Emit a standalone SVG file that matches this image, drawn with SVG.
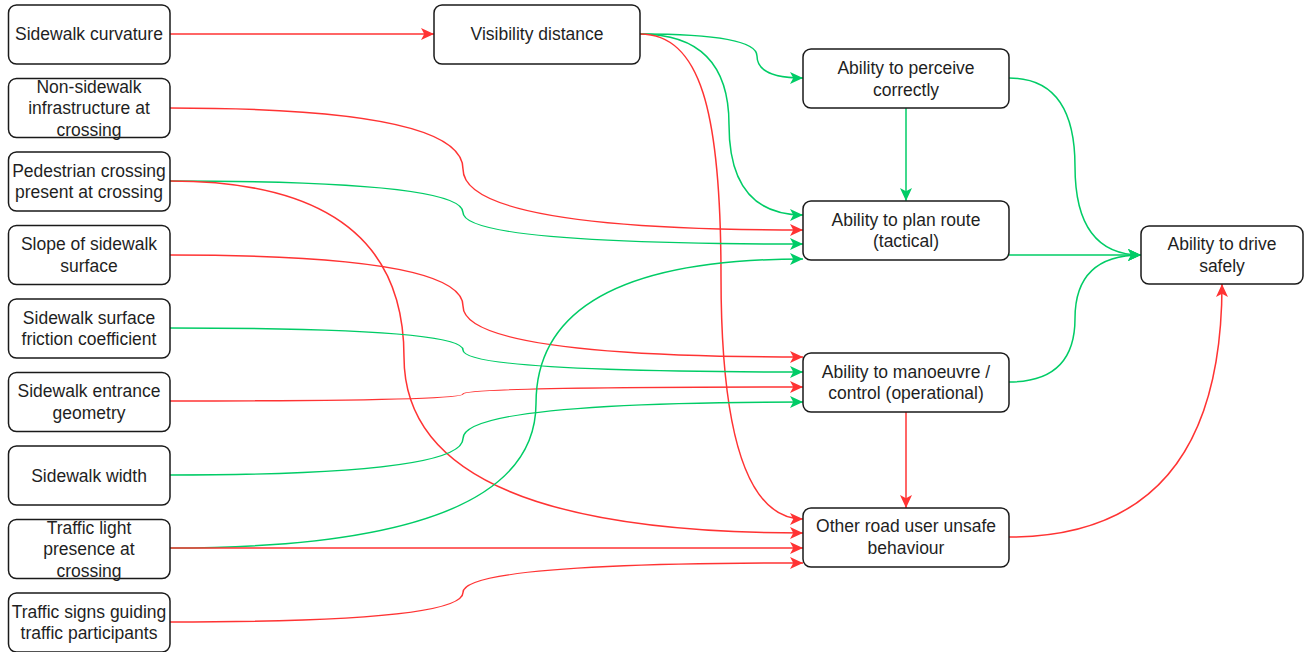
<svg xmlns="http://www.w3.org/2000/svg" width="1314" height="652" viewBox="0 0 1314 652">
  <style>
    .box { fill: #ffffff; stroke: #1a1a1a; stroke-width: 1.5; }
    .lbl { font-family: "Liberation Sans", Arial, Helvetica, sans-serif; font-size: 17.5px; fill: #1f1f1f; text-anchor: middle; }
    .red { fill: none; stroke: #ff3333; stroke-width: 1.5; }
    .green { fill: none; stroke: #00cc66; stroke-width: 1.5; }
  </style>
  <defs>
    <marker id="arrRed" viewBox="0 0 13 12" markerWidth="13" markerHeight="12" refX="13" refY="6" orient="auto" markerUnits="userSpaceOnUse">
      <path d="M0,0 L13,6 L0,12 L3.25,6 Z" fill="#ff3333"/>
    </marker>
    <marker id="arrGreen" viewBox="0 0 13 12" markerWidth="13" markerHeight="12" refX="13" refY="6" orient="auto" markerUnits="userSpaceOnUse">
      <path d="M0,0 L13,6 L0,12 L3.25,6 Z" fill="#00cc66"/>
    </marker>
  </defs>
  <rect width="1314" height="652" fill="#ffffff"/>

  <!-- connectors -->
  <g id="connectors">
    <path class="red" marker-end="url(#arrRed)" d="M170,34 L434,34"/>
    <path class="green" marker-end="url(#arrGreen)" d="M640,34 Q757,34 757,56 Q757,78 803,78"/>
    <path class="green" marker-end="url(#arrGreen)" d="M640,34 Q729,34 729,124.5 Q729,215 803,215"/>
    <path class="red" marker-end="url(#arrRed)" d="M640,34 C700,34 721,110 721,276.5 Q721,519 803,519"/>
    <path class="red" marker-end="url(#arrRed)" d="M170,108 Q463,108 463,169 Q463,230 803,230"/>
    <path class="green" marker-end="url(#arrGreen)" d="M170,181 Q463,181 463,212.5 Q463,244 803,244"/>
    <path class="red" marker-end="url(#arrRed)" d="M170,181 Q404,181 404,357 Q404,533 803,533"/>
    <path class="red" marker-end="url(#arrRed)" d="M170,255 Q463,255 463,306 Q463,357 803,357"/>
    <path class="green" marker-end="url(#arrGreen)" d="M170,328 Q463,328 463,350 Q463,372 803,372"/>
    <path class="red" marker-end="url(#arrRed)" d="M170,401 Q463,401 463,394 Q463,387 803,387"/>
    <path class="green" marker-end="url(#arrGreen)" d="M170,475 Q463,475 463,438.5 Q463,402 803,402"/>
    <path class="green" marker-end="url(#arrGreen)" d="M170,548 Q536,548 536,403.5 Q536,259 803,259"/>
    <path class="red" marker-end="url(#arrRed)" d="M170,548 L803,548"/>
    <path class="red" marker-end="url(#arrRed)" d="M170,622 Q463,622 463,592.5 Q463,563 803,563"/>
    <path class="green" marker-end="url(#arrGreen)" d="M906,108 L906,201"/>
    <path class="red" marker-end="url(#arrRed)" d="M906,412 L906,508"/>
    <path class="green" marker-end="url(#arrGreen)" d="M1009,78 Q1075,78 1075,166.5 Q1075,255 1141,255"/>
    <path class="green" marker-end="url(#arrGreen)" d="M1009,255 L1141,255"/>
    <path class="green" marker-end="url(#arrGreen)" d="M1009,382 Q1075,382 1075,318.5 Q1075,255 1141,255"/>
    <path class="red" marker-end="url(#arrRed)" d="M1009,537 Q1222,537 1222,284"/>
  </g>

  <!-- left column: contributing factors -->
  <g id="sidewalk-curvature">
    <rect class="box" x="8.5" y="5" width="161.5" height="59" rx="8"/>
    <text class="lbl" x="89" y="40">Sidewalk curvature</text>
  </g>
  <g id="non-sidewalk-infrastructure">
    <rect class="box" x="8.5" y="78.5" width="161.5" height="59" rx="8"/>
    <text class="lbl" x="89" y="92.5">Non-sidewalk</text>
    <text class="lbl" x="89" y="114">infrastructure at</text>
    <text class="lbl" x="89" y="135.5">crossing</text>
  </g>
  <g id="pedestrian-crossing">
    <rect class="box" x="8.5" y="152" width="161.5" height="59" rx="8"/>
    <text class="lbl" x="89" y="176.5">Pedestrian crossing</text>
    <text class="lbl" x="89" y="198">present at crossing</text>
  </g>
  <g id="slope">
    <rect class="box" x="8.5" y="225.5" width="161.5" height="59" rx="8"/>
    <text class="lbl" x="89" y="250">Slope of sidewalk</text>
    <text class="lbl" x="89" y="271.5">surface</text>
  </g>
  <g id="friction">
    <rect class="box" x="8.5" y="299" width="161.5" height="59" rx="8"/>
    <text class="lbl" x="89" y="323.5">Sidewalk surface</text>
    <text class="lbl" x="89" y="345">friction coefficient</text>
  </g>
  <g id="entrance-geometry">
    <rect class="box" x="8.5" y="372.5" width="161.5" height="59" rx="8"/>
    <text class="lbl" x="89" y="397">Sidewalk entrance</text>
    <text class="lbl" x="89" y="418.5">geometry</text>
  </g>
  <g id="sidewalk-width">
    <rect class="box" x="8.5" y="446" width="161.5" height="59" rx="8"/>
    <text class="lbl" x="89" y="481.5">Sidewalk width</text>
  </g>
  <g id="traffic-light">
    <rect class="box" x="8.5" y="519.5" width="161.5" height="59" rx="8"/>
    <text class="lbl" x="89" y="533.5">Traffic light</text>
    <text class="lbl" x="89" y="555">presence at</text>
    <text class="lbl" x="89" y="576.5">crossing</text>
  </g>
  <g id="traffic-signs">
    <rect class="box" x="8.5" y="593" width="161.5" height="59" rx="8"/>
    <text class="lbl" x="89" y="617.5">Traffic signs guiding</text>
    <text class="lbl" x="89" y="639">traffic participants</text>
  </g>

  <!-- intermediate -->
  <g id="visibility-distance">
    <rect class="box" x="434" y="5" width="206" height="59" rx="8"/>
    <text class="lbl" x="537" y="40">Visibility distance</text>
  </g>

  <!-- abilities -->
  <g id="perceive">
    <rect class="box" x="803" y="49" width="206" height="59" rx="8"/>
    <text class="lbl" x="906" y="74">Ability to perceive</text>
    <text class="lbl" x="906" y="95.5">correctly</text>
  </g>
  <g id="plan-route">
    <rect class="box" x="803" y="201" width="206" height="59" rx="8"/>
    <text class="lbl" x="906" y="225.5">Ability to plan route</text>
    <text class="lbl" x="906" y="247">(tactical)</text>
  </g>
  <g id="manoeuvre">
    <rect class="box" x="803" y="353" width="206" height="59" rx="8"/>
    <text class="lbl" x="906" y="377.5">Ability to manoeuvre /</text>
    <text class="lbl" x="906" y="399">control (operational)</text>
  </g>
  <g id="other-road-user">
    <rect class="box" x="803" y="508" width="206" height="59" rx="8"/>
    <text class="lbl" x="906" y="532">Other road user unsafe</text>
    <text class="lbl" x="906" y="553.5">behaviour</text>
  </g>

  <!-- outcome -->
  <g id="drive-safely">
    <rect class="box" x="1141" y="226" width="162" height="58" rx="8"/>
    <text class="lbl" x="1222" y="250">Ability to drive</text>
    <text class="lbl" x="1222" y="271.5">safely</text>
  </g>
</svg>
